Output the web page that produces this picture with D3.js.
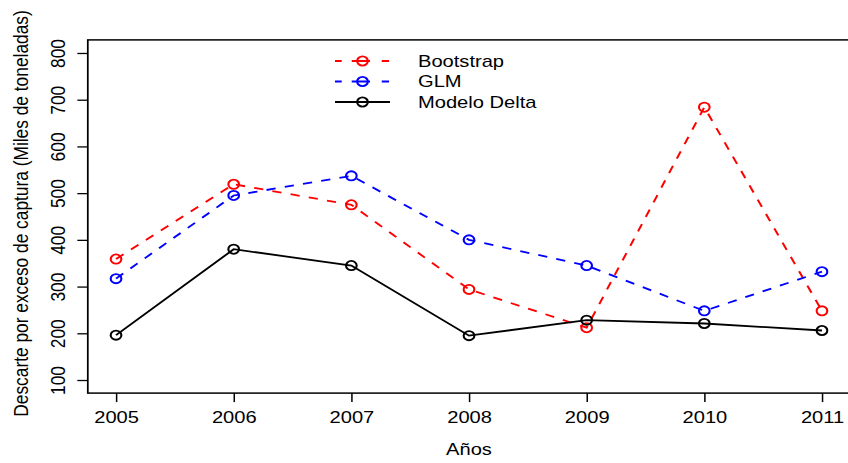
<!DOCTYPE html>
<html>
<head>
<meta charset="utf-8">
<script src="https://cdn.jsdelivr.net/npm/d3@7"></script>
<style>
  html, body { margin: 0; padding: 0; background: #fff; }
  svg { display: block; }
  text { font-family: "Liberation Sans", Arial, Helvetica, sans-serif; fill: #000; }
</style>
</head>
<body>
<script>
// Yearly discard estimates (thousand tonnes) from three methods
const years = [2005, 2006, 2007, 2008, 2009, 2010, 2011];
const bootstrap = [359, 519, 475, 294, 212, 684, 248];
const glm = [317, 495, 537, 400, 345, 248, 332];
const modeloDelta = [196, 380, 345, 195, 228, 221, 206];

const yTicks = [100, 200, 300, 400, 500, 600, 700, 800];
const seriesNames = ["Bootstrap", "GLM", "Modelo Delta"];
const seriesColors = ["#ff0000", "#0000ff", "#000000"];
const seriesDash = ["8,8", "8,8", null];
const legendDash = ["5.8,8.6,15.8,10.1,6.3", "5.8,8.6,15.8,10.1,6.3", null];

const W = 848, H = 463;
const SX = 1.16;               // horizontal stretch of the whole figure
const fontSize = 17.35;

const svg = d3.select("body").append("svg")
  .attr("width", W).attr("height", H);

// everything is drawn in an inner frame then stretched horizontally
const g = svg.append("g").attr("transform", `scale(${SX},1)`);

// plot region (screen px converted to inner units)
const plotLeft = 87.8 / SX, plotRight = 850.2 / SX;
const plotTop = 39.9, plotBottom = 393.1;

// axis ranges padded 4% like base graphics
const xPad = (years[years.length - 1] - years[0]) * 0.04;
const yLo = 100, yHi = 800, yPad = (yHi - yLo) * 0.04;

const x = d3.scaleLinear()
  .domain([years[0] - xPad, years[years.length - 1] + xPad])
  .range([plotLeft, plotRight]);
const y = d3.scaleLinear()
  .domain([yLo - yPad, yHi + yPad])
  .range([plotBottom, plotTop]);

// frame
g.append("rect")
  .attr("x", plotLeft).attr("y", plotTop)
  .attr("width", plotRight - plotLeft).attr("height", plotBottom - plotTop)
  .attr("fill", "none").attr("stroke", "#000").attr("stroke-width", 1.5);

// x axis
const xAxis = d3.axisBottom(x).tickValues(years).tickFormat(d3.format("d"))
  .tickSize(9).tickSizeOuter(0).tickPadding(0);
const xg = g.append("g").attr("transform", `translate(0,${plotBottom})`).call(xAxis);
xg.select(".domain").remove();
xg.selectAll(".tick line").attr("stroke", "#000").attr("stroke-width", 1.3);
xg.selectAll(".tick text")
  .attr("y", 422.7 - plotBottom).attr("dy", null)
  .style("font-size", fontSize + "px")
  .style("font-family", "'Liberation Sans', Arial, sans-serif")
  .attr("fill", "#000");

// y axis with rotated labels
const yAxis = d3.axisLeft(y).tickValues(yTicks).tickFormat(d3.format("d"))
  .tickSize(9).tickSizeOuter(0);
const yg = g.append("g").attr("transform", `translate(${plotLeft},0)`).call(yAxis);
yg.select(".domain").remove();
yg.selectAll(".tick line").attr("stroke", "#000").attr("stroke-width", 1.3);
yg.selectAll(".tick text")
  .attr("x", null).attr("dy", null)
  .attr("text-anchor", "middle")
  .attr("transform", `translate(${65 / SX - plotLeft},0) rotate(-90)`)
  .style("font-size", fontSize + "px")
  .style("font-family", "'Liberation Sans', Arial, sans-serif")
  .attr("fill", "#000");

// axis titles
g.append("text")
  .attr("x", (plotLeft + plotRight) / 2).attr("y", 455)
  .attr("text-anchor", "middle")
  .style("font-size", fontSize + "px")
  .text("Años");

g.append("text")
  .attr("transform", `translate(${28 / SX},${(plotTop + plotBottom) / 2 - 3}) rotate(-90)`)
  .attr("text-anchor", "middle")
  .style("font-size", fontSize + "px")
  .text("Descarte por exceso de captura (Miles de toneladas)");

// series
const allSeries = [bootstrap, glm, modeloDelta];
const line = d3.line().x((d, i) => x(years[i])).y(d => y(d));

allSeries.forEach((vals, k) => {
  const sg = g.append("g");
  sg.append("path")
    .datum(vals)
    .attr("d", line)
    .attr("fill", "none")
    .attr("stroke", seriesColors[k])
    .attr("stroke-width", 1.8)
    .attr("stroke-dasharray", seriesDash[k]);
  sg.selectAll("circle")
    .data(vals)
    .join("circle")
    .attr("cx", (d, i) => x(years[i]))
    .attr("cy", d => y(d))
    .attr("r", 4.6)
    .attr("fill", "none")
    .attr("stroke", seriesColors[k])
    .attr("stroke-width", 1.8);
});

// legend
const legRows = [61, 81.5, 102];
const lg = g.append("g");
seriesNames.forEach((name, k) => {
  const ry = legRows[k];
  lg.append("line")
    .attr("x1", 335 / SX).attr("x2", 390 / SX)
    .attr("y1", ry).attr("y2", ry)
    .attr("stroke", seriesColors[k])
    .attr("stroke-width", 1.8)
    .attr("stroke-dasharray", legendDash[k]);
  lg.append("circle")
    .attr("cx", 362.5 / SX).attr("cy", ry).attr("r", 4.6)
    .attr("fill", "none")
    .attr("stroke", seriesColors[k])
    .attr("stroke-width", 1.8);
  lg.append("text")
    .attr("x", 418 / SX).attr("y", ry + 6)
    .style("font-size", fontSize + "px")
    .text(name);
});
</script>
</body>
</html>
